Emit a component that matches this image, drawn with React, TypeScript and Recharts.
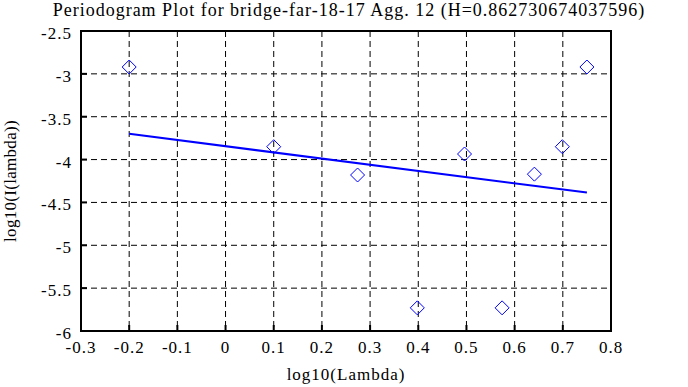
import React from "react";
import {
  ScatterChart,
  Scatter,
  XAxis,
  YAxis,
  CartesianGrid,
  ReferenceArea,
} from "recharts";

const chartTitle = "Periodogram Plot for bridge-far-18-17 Agg. 12 (H=0.862730674037596)";
const xLabel = "log10(Lambda)";
const yLabel = "log10(I(lambda))";

const xTicks = [-0.3, -0.2, -0.1, 0, 0.1, 0.2, 0.3, 0.4, 0.5, 0.6, 0.7, 0.8];
const yTicks = [-6, -5.5, -5, -4.5, -4, -3.5, -3, -2.5];

const lambdaX = [-0.2, 0.1, 0.274, 0.398, 0.496, 0.574, 0.641, 0.699, 0.75];
const periodY = [-2.92, -3.85, -4.18, -5.73, -3.935, -5.73, -4.17, -3.85, -2.92];

const fitX = [-0.2, 0.75];
const fitY = [-3.7, -4.385];

const points = lambdaX.map((x, i) => ({ x, y: periodY[i] }));
const fitLine = fitX.map((x, i) => ({ x, y: fitY[i] }));

const FONT = "'Liberation Serif', 'Times New Roman', serif";
const BLUE = "#0000ff";

const fmt = (v: number) => String(Number(v.toFixed(1)));

const Diamond = (props: any) => {
  const { cx, cy } = props;
  if (cx == null || cy == null) return null;
  const r = 7;
  return (
    <path
      d={`M${cx},${cy - r} L${cx + r},${cy} L${cx},${cy + r} L${cx - r},${cy} Z`}
      fill="none"
      stroke={BLUE}
      strokeWidth={1}
    />
  );
};

const NoShape = () => null;

const tickStyle = { fontFamily: FONT, fontSize: 17, letterSpacing: "1px" };

const BottomTick = (props: any) => {
  const { x, y, payload } = props;
  return (
    <g>
      <line x1={x} y1={y} x2={x} y2={y - 6} stroke="#000" strokeWidth={2} />
      <text x={x} y={y + 22} textAnchor="middle" style={tickStyle} fill="#000">
        {fmt(payload.value)}
      </text>
    </g>
  );
};

const TopTick = (props: any) => {
  const { x, y } = props;
  return <line x1={x} y1={y} x2={x} y2={y + 6} stroke="#000" strokeWidth={2} />;
};

const LeftTick = (props: any) => {
  const { x, y, payload } = props;
  return (
    <g>
      <line x1={x} y1={y} x2={x + 6} y2={y} stroke="#000" strokeWidth={2} />
      <text x={x - 9} y={y + 8} textAnchor="end" style={tickStyle} fill="#000">
        {fmt(payload.value)}
      </text>
    </g>
  );
};

const RightTick = (props: any) => {
  const { x, y } = props;
  return <line x1={x} y1={y} x2={x - 6} y2={y} stroke="#000" strokeWidth={2} />;
};

export default function App() {
  return (
    <div style={{ position: "absolute", left: 0, top: 0, width: 688, height: 387, background: "#fff" }}>
      <div
        style={{
          position: "absolute",
          left: 0,
          top: 0,
          width: 698,
          textAlign: "center",
          fontFamily: FONT,
          fontSize: 18,
          letterSpacing: "1px",
          lineHeight: "20px",
          color: "#000",
          whiteSpace: "nowrap",
        }}
      >
        {chartTitle}
      </div>
      <ScatterChart
        width={688}
        height={387}
        margin={{ top: 31, right: 77, bottom: 0, left: 0 }}
      >
        <CartesianGrid stroke="#000" strokeDasharray="6 4" strokeWidth={1} />
        <XAxis
          xAxisId={0}
          type="number"
          dataKey="x"
          domain={[-0.3, 0.8]}
          ticks={xTicks}
          allowDataOverflow
          height={56}
          tickSize={0}
          tickMargin={0}
          tickLine={false}
          axisLine={false}
          tick={<BottomTick />}
          interval={0}
          label={{
            value: xLabel,
            position: "insideBottom",
            offset: 7,
            style: { fontFamily: FONT, fontSize: 17, letterSpacing: "1px" },
            fill: "#000",
          }}
        />
        <XAxis
          xAxisId="top"
          orientation="top"
          type="number"
          dataKey="x"
          domain={[-0.3, 0.8]}
          ticks={xTicks}
          allowDataOverflow
          height={0}
          tickSize={0}
          tickMargin={0}
          tickLine={false}
          axisLine={false}
          tick={<TopTick />}
          interval={0}
        />
        <YAxis
          yAxisId={0}
          type="number"
          dataKey="y"
          domain={[-6, -2.5]}
          ticks={yTicks}
          allowDataOverflow
          width={81}
          tickSize={0}
          tickMargin={0}
          tickLine={false}
          axisLine={false}
          tick={<LeftTick />}
          interval={0}
          label={{
            value: yLabel,
            angle: -90,
            position: "insideLeft",
            offset: 10,
            style: { textAnchor: "middle", fontFamily: FONT, fontSize: 17, letterSpacing: "0.3px" },
            fill: "#000",
          }}
        />
        <YAxis
          yAxisId="right"
          orientation="right"
          type="number"
          dataKey="y"
          domain={[-6, -2.5]}
          ticks={yTicks}
          allowDataOverflow
          width={0}
          tickSize={0}
          tickMargin={0}
          tickLine={false}
          axisLine={false}
          tick={<RightTick />}
          interval={0}
        />
        <ReferenceArea
          xAxisId={0}
          yAxisId={0}
          x1={-0.3}
          x2={0.8}
          y1={-6}
          y2={-2.5}
          fill="none"
          fillOpacity={0}
          stroke="#000"
          strokeWidth={2}
          ifOverflow="visible"
        />
        <Scatter
          xAxisId={0}
          yAxisId={0}
          data={fitLine}
          line={{ stroke: BLUE, strokeWidth: 2 }}
          shape={<NoShape />}
          isAnimationActive={false}
        />
        <Scatter
          xAxisId={0}
          yAxisId={0}
          data={points}
          shape={<Diamond />}
          isAnimationActive={false}
        />
      </ScatterChart>
    </div>
  );
}
